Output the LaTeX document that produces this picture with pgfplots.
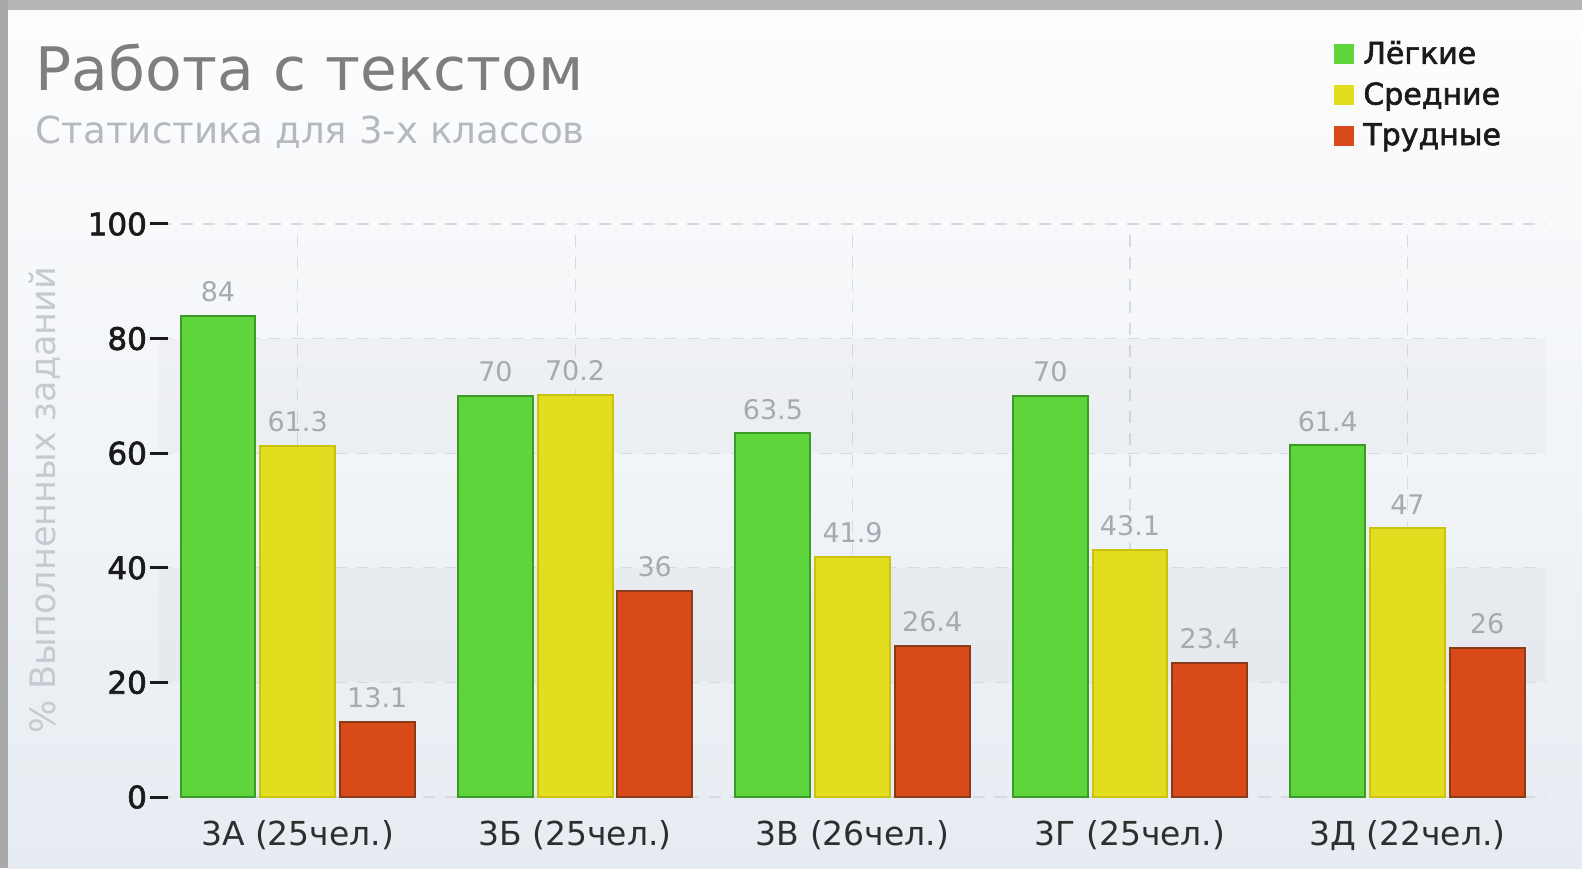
\documentclass[border=0pt]{standalone}
\usepackage{fontspec}
\setmainfont{DejaVu Sans}
\newfontfamily\semib[FakeBold=2]{DejaVu Sans}
\usepackage{pgfplots}
\pgfplotsset{compat=1.18}
\definecolor{gfill}{HTML}{5ED53A}
\definecolor{gedge}{HTML}{3C9A28}
\definecolor{yfill}{HTML}{E2DE1F}
\definecolor{yedge}{HTML}{C9C210}
\definecolor{rfill}{HTML}{D84A18}
\definecolor{redge}{HTML}{8C3A1C}
\definecolor{titlegray}{HTML}{7E7E7E}
\definecolor{subgray}{HTML}{B5B9BD}
\definecolor{labgray}{HTML}{C5CAD0}
\definecolor{valgray}{HTML}{A5AAB0}
\definecolor{gridgray}{HTML}{D6DADF}
\definecolor{frametop}{HTML}{B6B6B6}
\definecolor{frameleft}{HTML}{A9A9A9}
\definecolor{bgtop}{HTML}{FDFDFE}
\definecolor{bgbot}{HTML}{E6ECF2}
\definecolor{dark}{HTML}{1A1A1A}
\definecolor{xlab}{HTML}{2E2E2E}
\begin{document}
\begin{tikzpicture}
\fill[white] (0pt,0pt) rectangle (791pt,434pt);
\shade[top color=bgtop, bottom color=bgbot] (4pt,0pt) rectangle (791pt,429pt);
\fill[frametop] (0pt,429pt) rectangle (791pt,434pt);
\fill[frameleft] (0pt,0pt) rectangle (4pt,434pt);
\node[anchor=base west, inner sep=0pt, text=titlegray, font=\fontsize{30}{30}\selectfont] at (17.7pt,388.5pt) {Работа с текстом};
\node[anchor=base west, inner sep=0pt, text=subgray, font=\fontsize{18.6}{18.6}\selectfont] at (17.7pt,362pt) {Статистика для 3-х классов};
\begin{axis}[
  at={(79.45pt,35.5pt)}, anchor=south west,
  width=693.65pt, height=286.5pt, scale only axis,
  xmin=-0.5, xmax=4.5, ymin=0, ymax=100,
  ybar, bar width=0.27,
  axis line style={draw=none},
  xtick={0,1,2,3,4},
  xticklabels={3А (25чел.),3Б (25чел.),3В (26чел.),3Г (25чел.),3Д (22чел.)},
  xtick style={draw=none},
  ytick={0,20,40,60,80,100},
  ytick pos=left, tick align=center,
  major tick length=8.6pt,
  ytick style={draw=dark, line width=1.5pt},
  xmajorgrids, ymajorgrids,
  major grid style={draw=gridgray, dash pattern=on 6pt off 5pt, line width=0.6pt},
  /pgf/number format/assume math mode=true,
  yticklabel style={font=\semib\fontsize{15.5}{15.5}\selectfont, text=dark, inner xsep=1.5pt},
  xticklabel style={font=\fontsize{16.5}{16.5}\selectfont, text=xlab, yshift=-4pt},
  ylabel={\% Выполненных заданий},
  ylabel style={at={(axis description cs:-0.0826,0.518)}, anchor=center, font=\fontsize{17.5}{17.5}\selectfont, text=labgray},
  nodes near coords,
  every node near coord/.append style={font=\fontsize{13.5}{13.5}\selectfont, text=valgray, yshift=3pt},
  legend style={at={(axis description cs:0.847,1.327)}, anchor=north west, draw=none, fill=none,
    font=\semib\fontsize{15}{15}\selectfont, text=dark, row sep=3.8pt, inner sep=0pt,
    nodes={inner xsep=4.5pt}},
  legend cell align=left,
  clip=false,
]
\fill[black, opacity=0.025] (axis cs:-0.5,20) rectangle (axis cs:4.5,40);
\fill[black, opacity=0.025] (axis cs:-0.5,60) rectangle (axis cs:4.5,80);
\addplot[bar shift=-0.287, fill=gfill, draw=gedge, line width=1pt,
  legend image code/.code={\fill[gfill] (0pt,-4.5pt) rectangle (9pt,4.5pt);}]
  coordinates {(0,84) (1,70) (2,63.5) (3,70) (4,61.4)};
\addplot[bar shift=0, fill=yfill, draw=yedge, line width=1pt,
  legend image code/.code={\fill[yfill] (0pt,-4.5pt) rectangle (9pt,4.5pt);}]
  coordinates {(0,61.3) (1,70.2) (2,41.9) (3,43.1) (4,47)};
\addplot[bar shift=0.287, fill=rfill, draw=redge, line width=1pt,
  legend image code/.code={\fill[rfill] (0pt,-4.5pt) rectangle (9pt,4.5pt);}]
  coordinates {(0,13.1) (1,36) (2,26.4) (3,23.4) (4,26)};
\legend{Лёгкие,Средние,Трудные}
\end{axis}
\end{tikzpicture}
\end{document}
